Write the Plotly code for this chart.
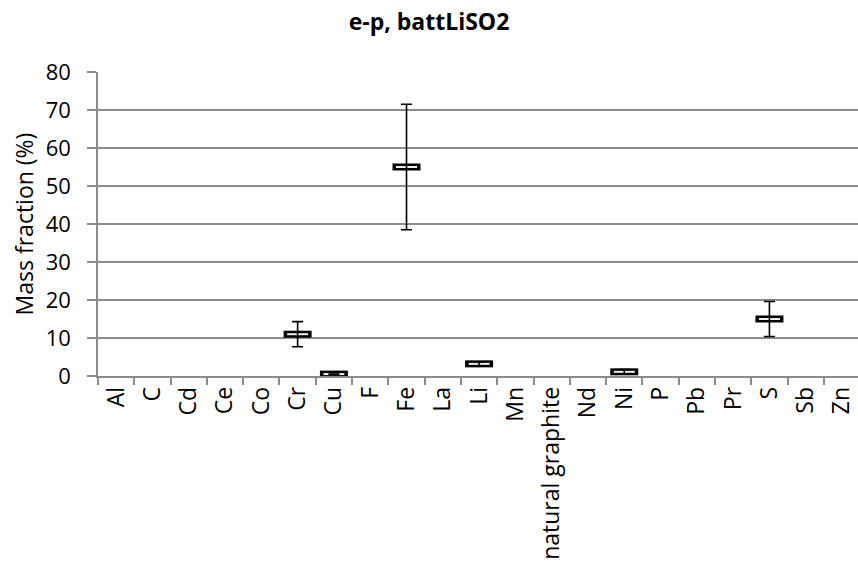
import plotly.graph_objects as go

categories = ["Al", "C", "Cd", "Ce", "Co", "Cr", "Cu", "F", "Fe", "La", "Li", "Mn",
              "natural graphite", "Nd", "Ni", "P", "Pb", "Pr", "S", "Sb", "Zn"]
values = [None, None, None, None, None, 11.0, 0.5, None, 55.0, None, 3.2, None,
          None, None, 1.1, None, None, None, 15.0, None, None]
errors = [None, None, None, None, None, 3.3, 0.0, None, 16.5, None, 0.5, None,
          None, None, 0.6, None, None, None, 4.6, None, None]
y_ticks = [0, 10, 20, 30, 40, 50, 60, 70, 80]

idx = list(range(len(categories)))
FONT = "Open Sans"
GRID = "#8c8c8c"

fig = go.Figure()
fig.add_trace(go.Scatter(
    x=idx, y=values, mode="markers", showlegend=False, hoverinfo="skip",
    marker=dict(symbol="line-ew", size=20, color="black",
                line=dict(color="black", width=7)),
))
fig.add_trace(go.Scatter(
    x=idx, y=values, mode="markers", showlegend=False, hoverinfo="skip",
    marker=dict(symbol="line-ew", size=15, color="white",
                line=dict(color="#f0f0f0", width=2)),
))
fig.add_trace(go.Scatter(
    x=idx, y=values, mode="markers", showlegend=False,
    marker=dict(size=1, color="rgba(0,0,0,0)"),
    error_y=dict(type="data", array=errors, visible=True, color="black",
                 thickness=1.6, width=5.5),
))

fig.update_layout(
    width=858, height=570,
    margin=dict(l=98, r=0, t=72, b=194),
    paper_bgcolor="white", plot_bgcolor="white",
    title=dict(text="<b>e-p, battLiSO2</b>", x=0.5, xanchor="center",
               y=0.962, yanchor="middle",
               font=dict(family=FONT, size=23, color="black")),
    font=dict(family=FONT, color="black"),
    xaxis=dict(
        range=[-0.5, 20.44], tickmode="array", tickvals=idx, ticktext=categories,
        tickangle=-90, tickfont=dict(family=FONT, size=23, color="black"),
        showgrid=False, zeroline=False, showline=True, linecolor=GRID, linewidth=1.5,
        ticks="",
    ),
    yaxis=dict(
        range=[0, 80], tickvals=y_ticks, tickfont=dict(family=FONT, size=22, color="black"),
        showgrid=True, gridcolor=GRID, gridwidth=1.5, zeroline=False,
        showline=True, linecolor=GRID, linewidth=1.5, ticks="outside", ticklen=9,
        tickcolor=GRID, tickwidth=1.5, ticklabelstandoff=12,
        title=dict(text="Mass fraction (%)", font=dict(family=FONT, size=23, color="black"),
                   standoff=6),
    ),
)

fig.update_xaxes(minor=dict(tickmode="array", tickvals=[i - 0.5 for i in idx] + [20.5],
                            ticks="outside", ticklen=7, tickcolor=GRID, tickwidth=1.5))

fig.write_html("out.html")
